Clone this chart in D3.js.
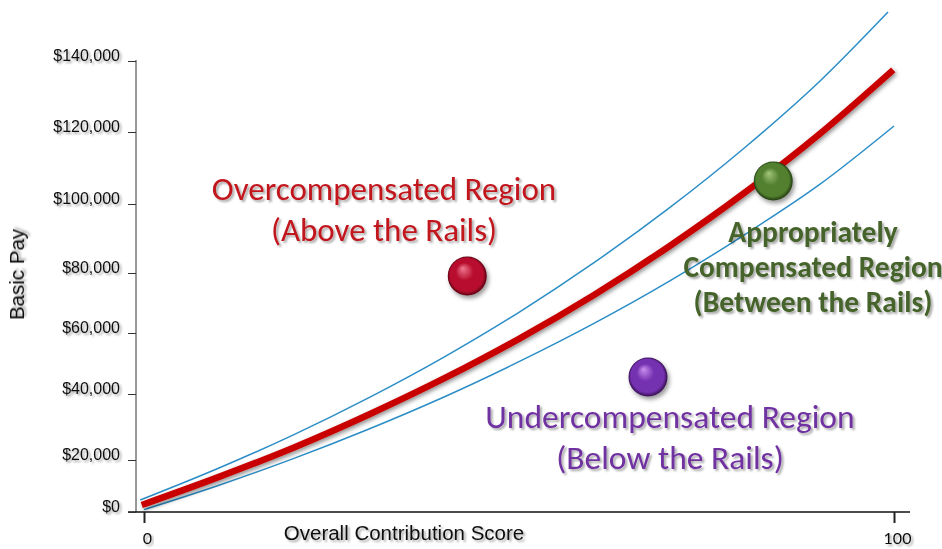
<!DOCTYPE html>
<html>
<head>
<meta charset="utf-8">
<script src="https://cdn.jsdelivr.net/npm/d3@7"></script>
<style>
  html, body { margin: 0; padding: 0; background: #ffffff; }
  svg { display: block; }
</style>
</head>
<body>
<svg id="chart" width="942" height="549"></svg>
<script>
// ---------------- data ----------------
const xTickValues = [0, 100];
const xTickLabels = ["0", "100"];
const yTickValues = [0, 20000, 40000, 60000, 80000, 100000, 120000, 140000];
const yTickLabels = ["$0", "$20,000", "$40,000", "$60,000", "$80,000", "$100,000", "$120,000", "$140,000"];

// upper rail
const upperScore = [-0.5, 10, 20, 30, 40, 50, 60, 70, 80, 90, 99.2];
const upperPay   = [4600, 16900, 27700, 38900, 52100, 66900, 83000, 98800, 115500, 134100, 153800];
// centre pay line
const midScore = [-0.3, 10, 20, 30, 40, 50, 60, 70, 80, 90, 99.9];
const midPay   = [2700, 13500, 23800, 33800, 45100, 58100, 72700, 87700, 103000, 119300, 137500];
// lower rail
const lowerScore = [0, 10, 20, 30, 40, 50, 60, 70, 80, 90, 100];
const lowerPay   = [900, 10300, 20500, 29400, 39100, 50600, 63200, 77200, 91000, 105300, 121700];

// employees (balls)
const ballNames = ["over", "under", "appropriate"];
const ballScore = [43.1, 67.2, 83.9];
const ballPay   = [79000, 45600, 106400];

// ---------------- layout ----------------
const svg = d3.select("#chart");
const x = d3.scaleLinear().domain([0, 100]).range([144, 894]);
// the picture's value axis is not evenly spaced; follow its ticks piece by piece
const y = d3.scaleLinear().domain(yTickValues).range([512, 460, 394, 333, 273, 204, 132, 61]);

const defs = svg.append("defs");
function shadow(id, dx, dy, sd, op) {
  const f = defs.append("filter").attr("id", id)
    .attr("x", "-20%").attr("y", "-20%").attr("width", "140%").attr("height", "140%");
  f.append("feDropShadow").attr("dx", dx).attr("dy", dy).attr("stdDeviation", sd)
    .attr("flood-color", "#000").attr("flood-opacity", op);
}
shadow("txtShadow", 2, 2, 1.3, 0.35);
shadow("lineShadow", 1.5, 2, 2, 0.45);
shadow("ballShadow", 2, 3, 2, 0.4);

const ballColors = {
  over: ["#f07a92", "#b8102e", "#5a0012"],
  under: ["#c890ee", "#7530b0", "#35104f"],
  appropriate: ["#a4c67c", "#52802f", "#223c12"]
};
ballNames.forEach(n => {
  const g = defs.append("radialGradient").attr("id", "grad-" + n)
    .attr("cx", "50%").attr("cy", "50%").attr("r", "50%")
    .attr("fx", "38%").attr("fy", "30%");
  const c = ballColors[n];
  g.append("stop").attr("offset", "0%").attr("stop-color", c[0]);
  g.append("stop").attr("offset", "45%").attr("stop-color", c[1]);
  g.append("stop").attr("offset", "85%").attr("stop-color", c[1]);
  g.append("stop").attr("offset", "100%").attr("stop-color", c[2]);
});

// ---------------- axes ----------------
const axisColor = "#333";
const x0 = x(0);
// y axis line
svg.append("line")
  .attr("x1", x0 - 8).attr("x2", x0 - 8)
  .attr("y1", y(140000) - 1).attr("y2", y(0))
  .attr("stroke", axisColor).attr("stroke-width", 1);
// x axis line
svg.append("line")
  .attr("x1", x0 - 16).attr("x2", x(100) + 16)
  .attr("y1", y(0)).attr("y2", y(0))
  .attr("stroke", "#111").attr("stroke-width", 1.3);

const yAxis = d3.axisLeft(y).tickValues(yTickValues)
  .tickFormat((d, i) => yTickLabels[i]).tickSize(8).tickPadding(8);
const yg = svg.append("g").attr("transform", `translate(${x0 - 8},0)`).call(yAxis);
yg.select(".domain").remove();
yg.selectAll(".tick line").attr("stroke", axisColor);
yg.selectAll(".tick text")
  .attr("font-family", "Arial, 'Liberation Sans', sans-serif")
  .attr("font-size", 16).attr("fill", "#111")
  .attr("transform", "translate(0,-6)")
  .attr("filter", "url(#txtShadow)");

const xAxis = d3.axisBottom(x).tickValues(xTickValues)
  .tickFormat((d, i) => xTickLabels[i]).tickSize(11).tickPadding(10);
const xg = svg.append("g").attr("transform", `translate(0,${y(0)})`).call(xAxis);
xg.select(".domain").remove();
xg.selectAll(".tick line").attr("stroke", "#222").attr("stroke-width", 2);
xg.selectAll(".tick text")
  .attr("font-family", "Lato, 'Open Sans', sans-serif")
  .attr("font-size", 16).attr("fill", "#111")
  .attr("dx", 3)
  .attr("filter", "url(#txtShadow)");

// axis titles
svg.append("text")
  .attr("x", (x(0) + x(100)) / 2 - 115).attr("y", 540)
  .attr("text-anchor", "middle")
  .attr("font-family", "Arial, 'Liberation Sans', sans-serif")
  .attr("font-size", 20.5).attr("fill", "#111")
  .attr("filter", "url(#txtShadow)")
  .text("Overall Contribution Score");

svg.append("text")
  .attr("transform", `translate(24,${(y(0) + y(140000)) / 2 - 12}) rotate(-90)`)
  .attr("text-anchor", "middle")
  .attr("font-family", "Arial, 'Liberation Sans', sans-serif")
  .attr("font-size", 20.5).attr("fill", "#111")
  .attr("filter", "url(#txtShadow)")
  .text("Basic Pay");

// ---------------- lines ----------------
const line = d3.line().x(d => x(d[0])).y(d => y(d[1])).curve(d3.curveMonotoneX);
const upperData = upperScore.map((s, i) => [s, upperPay[i]]);
const midData = midScore.map((s, i) => [s, midPay[i]]);
const lowerData = lowerScore.map((s, i) => [s, lowerPay[i]]);

svg.append("path").datum(upperData).attr("d", line)
  .attr("fill", "none").attr("stroke", "#2b8dc6").attr("stroke-width", 1.5);
svg.append("path").datum(lowerData).attr("d", line)
  .attr("fill", "none").attr("stroke", "#2b8dc6").attr("stroke-width", 1.5);
svg.append("path").datum(midData).attr("d", line)
  .attr("fill", "none").attr("stroke", "#c80000").attr("stroke-width", 6.5)
  .attr("filter", "url(#lineShadow)");

// ---------------- balls ----------------
svg.selectAll("circle.ball").data(ballNames).enter().append("circle")
  .attr("class", "ball")
  .attr("cx", (d, i) => x(ballScore[i]))
  .attr("cy", (d, i) => y(ballPay[i]))
  .attr("r", 19.5)
  .attr("fill", d => `url(#grad-${d})`)
  .attr("filter", "url(#ballShadow)");

// ---------------- region labels ----------------
const calibri = "Carlito, Lato, 'Open Sans', sans-serif";
function label(lines, cx, y0, dy, color, size, weight) {
  const t = svg.append("g").attr("filter", "url(#txtShadow)");
  lines.forEach((s, i) => {
    t.append("text")
      .attr("x", cx).attr("y", y0 + i * dy)
      .attr("text-anchor", "middle")
      .attr("font-family", calibri)
      .attr("font-size", size).attr("font-weight", weight)
      .attr("fill", color)
      .text(s);
  });
}
label(["Overcompensated  Region", "(Above the Rails)"], 384, 200, 41, "#c0141c", 33, 400);
label(["Undercompensated Region", "(Below the Rails)"], 670, 428, 41, "#7030a0", 33.5, 400);
label(["Appropriately", "Compensated Region", "(Between the Rails)"], 813, 242, 35, "#45642a", 29.5, 700);
</script>
</body>
</html>
